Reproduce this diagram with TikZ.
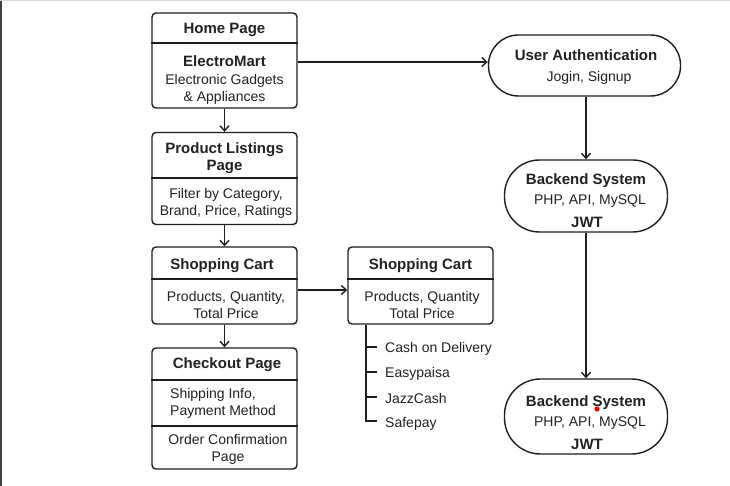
\documentclass[tikz,border=0pt]{standalone}
\usepackage{fontspec}
\setmainfont{Liberation Sans}
\usetikzlibrary{arrows.meta}
\definecolor{ink}{HTML}{1E1E1E}
\definecolor{txt}{HTML}{222222}
\begin{document}
\begin{tikzpicture}[x=1pt,y=-1pt,
  box/.style={draw=ink, line width=1.4pt, rounded corners=4pt, minimum width=145pt, inner sep=0pt},
  pill/.style={draw=ink, line width=1.4pt, inner sep=0pt},
  divider/.style={draw=ink, line width=1.2pt},
  arr/.style={draw=ink, line width=1.4pt, -{Straight Barb[length=5pt,width=9pt,line width=1.4pt]}},
  tline/.style={draw=ink, line width=1.3pt},
  title/.style={text=txt, font=\fontsize{15}{17}\selectfont\bfseries, align=center, inner sep=0pt, yshift=-2pt},
  body/.style={text=txt, font=\fontsize{14}{17}\selectfont, align=center, inner sep=0pt, yshift=-2pt},
  item/.style={text=txt, font=\fontsize{14}{17}\selectfont, anchor=west, inner sep=0pt, yshift=-1.5pt}]
\useasboundingbox (0,0) rectangle (730,486);
\fill[white] (0,0) rectangle (730,486);
\fill[black!75] (0,0) rectangle (2,486);
\draw[black!15, line width=1pt] (0,0.5) -- (730,0.5);

% left column boxes
\node[box, minimum height=95pt] (home) at (224.5,60.5) {};
\node[box, minimum height=92pt] (plist) at (224.5,178.5) {};
\node[box, minimum height=77pt] (cart1) at (224.5,285.5) {};
\node[box, minimum height=121pt] (checkout) at (224.5,408.5) {};
\node[box, minimum height=77pt] (cart2) at (420.5,285.5) {};

% right column pills
\node[pill, minimum width=192pt, minimum height=61pt, rounded corners=30pt] (auth) at (584.5,65.5) {};
\node[pill, minimum width=163pt, minimum height=72pt, rounded corners=35pt] (back1) at (586,196) {};
\node[pill, minimum width=163pt, minimum height=75pt, rounded corners=36pt] (back2) at (586,416.5) {};

% dividers
\draw[divider] (home.west |- 0,43) -- (home.east |- 0,43);
\draw[divider] (plist.west |- 0,178) -- (plist.east |- 0,178);
\draw[divider] (cart1.west |- 0,279) -- (cart1.east |- 0,279);
\draw[divider] (cart2.west |- 0,279) -- (cart2.east |- 0,279);
\draw[divider] (checkout.west |- 0,380) -- (checkout.east |- 0,380);
\draw[divider] (checkout.west |- 0,426) -- (checkout.east |- 0,426);

% texts: home
\node[title] (t1) at (224.5,28) {Home Page};
\node[title] (t2) at (224.5,59) {ElectroMart};
\node[body] (t3) at (224.5,87.5) {Electronic Gadgets\\\& Appliances};
% product listings
\node[title] (t4) at (224.5,156.5) {Product Listings\\Page};
\node[body] (t5) at (226,201) {Filter by Category,\\Brand, Price, Ratings};
% cart 1
\node[title] (t6) at (222,264) {Shopping Cart};
\node[body] (t7) at (226,302.5) {Products, Quantity,\\Total Price};
% cart 2
\node[title] (t8) at (420.5,264) {Shopping Cart};
\node[body] (t9) at (422,302.5) {Products, Quantity\\Total Price};
% checkout
\node[title] (t10) at (227,363) {Checkout Page};
\node[body, align=left, anchor=west] (t11) at (170,401.5) {Shipping Info,\\Payment Method};
\node[body] (t12) at (228,447.5) {Order Confirmation\\Page};
% auth
\node[title] (t13) at (586,53) {User Authentication};
\node[body] (t14) at (589,76) {Jogin, Signup};
% backend 1
\node[title] (t15) at (586,178.5) {Backend System};
\node[body] (t16) at (590,199.5) {PHP, API, MySQL};
\node[title] (t17) at (587,220) {JWT};
% backend 2
\node[title] (t18) at (586,400.5) {Backend System};
\node[body] (t19) at (590,421.5) {PHP, API, MySQL};
\node[title] (t20) at (587,442) {JWT};

% arrows
\draw[arr] (home) -- (plist);
\draw[arr] (plist) -- (cart1);
\draw[arr] (cart1) -- (checkout);
\draw[arr] ([yshift=-1.5pt]home.east) -- ([yshift=-1.5pt]home.east -| auth.west);
\draw[arr] ([yshift=-4.5pt]cart1.east) -- ([yshift=-4.5pt]cart1.east -| cart2.west);
\draw[arr] (auth.south -| back1.north) -- (back1.north);
\draw[arr] (back1) -- (back2);

% payment tree
\coordinate (tr) at (cart2.south -| 366,0);
\draw[tline] (tr) -- (366,421) -- (377,421);
\draw[tline] (366,347) -- (377,347);
\draw[tline] (366,372) -- (377,372);
\draw[tline] (366,397) -- (377,397);
\node[item] (p1) at (385,347) {Cash on Delivery};
\node[item] (p2) at (385,372) {Easypaisa};
\node[item] (p3) at (385,397) {JazzCash};
\node[item] (p4) at (385,422) {Safepay};

% red dot
\fill[red!90!black] (597,409) circle (2.6pt);
\end{tikzpicture}
\end{document}
